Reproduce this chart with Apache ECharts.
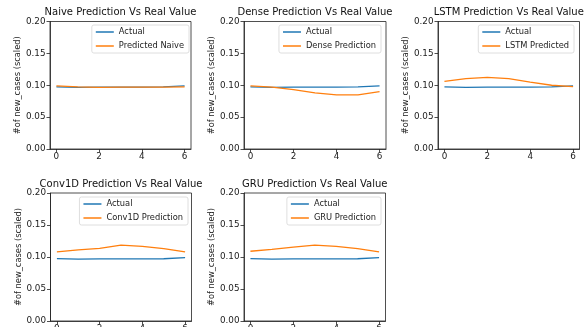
<!DOCTYPE html>
<html><head><meta charset="utf-8">
<script src="https://cdn.jsdelivr.net/npm/echarts@6/dist/echarts.min.js"></script>
<style>html,body{margin:0;padding:0;background:#fff}#c{width:586px;height:327px}</style>
</head><body><div id="c"></div>
<script>
var steps = [0, 1, 2, 3, 4, 5, 6];
var xTicks = [0, 2, 4, 6];
var yTicks = [0, 0.05, 0.10, 0.15, 0.20];
var actual = [0.0975, 0.0968, 0.0970, 0.0971, 0.0971, 0.0973, 0.0990];
var naivePred = [0.0990, 0.0975, 0.0968, 0.0970, 0.0971, 0.0971, 0.0975];
var densePred = [0.0990, 0.0970, 0.0930, 0.0880, 0.0850, 0.0850, 0.0900];
var lstmPred = [0.1060, 0.1105, 0.1125, 0.1105, 0.1050, 0.1000, 0.0980];
var conv1dPred = [0.1080, 0.1110, 0.1135, 0.1185, 0.1165, 0.1130, 0.1080];
var gruPred = [0.1090, 0.1120, 0.1155, 0.1185, 0.1165, 0.1130, 0.1080];
var titles = ['Naive Prediction Vs Real Value', 'Dense Prediction Vs Real Value', 'LSTM Prediction Vs Real Value', 'Conv1D Prediction Vs Real Value', 'GRU Prediction Vs Real Value'];
var predNames = ['Predicted Naive', 'Dense Prediction', 'LSTM Predicted', 'Conv1D Prediction', 'GRU Prediction'];
var preds = [naivePred, densePred, lstmPred, conv1dPred, gruPred];
var actualName = 'Actual';
var yName = '#of new_cases (scaled)';

var FONT = 'DejaVu Sans';
var boxes = [
  {l: 50, t: 21.5, w: 141, h: 127.5, legR: 397, legT: 25},
  {l: 244, t: 21.5, w: 142, h: 127.5, legR: 205, legT: 25},
  {l: 438, t: 21.5, w: 141.5, h: 127.5, legR: 12, legT: 25},
  {l: 50.5, t: 193, w: 141, h: 128, legR: 398, legT: 197},
  {l: 244, t: 193, w: 141.5, h: 128, legR: 205, legT: 197}
];
var option = {animation: false, backgroundColor: '#fff', title: [], grid: [], xAxis: [], yAxis: [], series: [], legend: []};
boxes.forEach(function (b, i) {
  option.title.push({text: titles[i], left: b.l + b.w / 2, top: b.t - 14, padding: 0, textAlign: 'center',
    textStyle: {fontFamily: FONT, fontSize: 10, fontWeight: 'normal', color: '#111'}});
  option.grid.push({left: b.l, top: b.t, width: b.w, height: b.h, show: true, borderColor: '#222', borderWidth: 0.8,
    containLabel: false, outerBoundsMode: 'none'});
  option.xAxis.push({type: 'value', gridIndex: i, min: -0.3, max: 6.3,
    axisLine: {show: true, onZero: false, lineStyle: {color: '#222', width: 0.8}},
    axisTick: {show: true, customValues: xTicks, length: 3.5, lineStyle: {color: '#222', width: 0.8}},
    axisLabel: {customValues: xTicks, margin: 3, fontFamily: FONT, fontSize: 8.8, color: '#222', formatter: function (v) { return String(v); }},
    splitLine: {show: false}});
  option.yAxis.push({type: 'value', gridIndex: i, min: 0, max: 0.2, interval: 0.05,
    name: yName, nameLocation: 'middle', nameRotate: 90, nameGap: 28,
    nameTextStyle: {fontFamily: FONT, fontSize: 8.3, color: '#222'},
    axisLine: {show: true, onZero: false, lineStyle: {color: '#222', width: 0.8}},
    axisTick: {show: true, length: 3.5, lineStyle: {color: '#222', width: 0.8}},
    axisLabel: {margin: 4.5, fontFamily: FONT, fontSize: 8.8, color: '#222', formatter: function (v) { return v.toFixed(2); }},
    splitLine: {show: false}});
  var aName = actualName + '\u200b'.repeat(i);
  var pName = predNames[i];
  option.series.push({type: 'line', name: aName, xAxisIndex: i, yAxisIndex: i, symbol: 'none',
    data: steps.map(function (s, k) { return [s, actual[k]]; }), lineStyle: {color: '#1f77b4', width: 1.3}, itemStyle: {color: '#1f77b4'}, z: 2});
  option.series.push({type: 'line', name: pName, xAxisIndex: i, yAxisIndex: i, symbol: 'none',
    data: steps.map(function (s, k) { return [s, preds[i][k]]; }), lineStyle: {color: '#ff7f0e', width: 1.3}, itemStyle: {color: '#ff7f0e'}, z: 3});
  option.legend.push({data: [aName, pName], orient: 'vertical', right: b.legR, top: b.legT,
    icon: 'rect', itemWidth: 18, itemHeight: 1.5, itemGap: 4,
    padding: [2, 5, 2, 4], borderColor: '#d5d5d5', borderWidth: 0.8, borderRadius: 2, backgroundColor: 'rgba(255,255,255,0.8)',
    formatter: function (n) { return n.replace(/\u200b/g, ''); },
    textStyle: {fontFamily: FONT, fontSize: 8.3, color: '#222', lineHeight: 10}, selectedMode: false});
});
var chart = echarts.init(document.getElementById('c'), null, {renderer: 'canvas'});
chart.setOption(option);
</script></body></html>
